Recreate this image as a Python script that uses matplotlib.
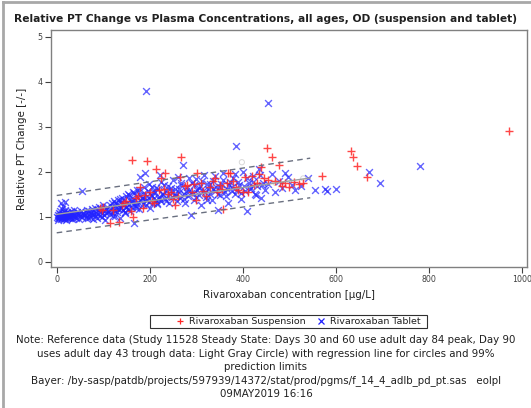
import numpy as np
import matplotlib
matplotlib.use("Agg")
import matplotlib.pyplot as plt
from matplotlib.patches import Rectangle
from matplotlib.lines import Line2D

plt.rcParams['font.family'] = ['DejaVu Sans']

# Rivaroxaban tablet: concentration [ug/L] and relative PT change
tab_x = [1, 2, 3, 3, 4, 5, 5, 6, 7, 7, 8, 9, 9, 10, 11, 11, 12, 13, 13, 14,
         15, 15, 16, 17, 18, 18, 19, 20, 21, 22, 22, 23, 24, 25, 26, 27, 28, 29, 30, 31,
         32, 33, 34, 35, 36, 37, 38, 40, 41, 42, 44, 45, 47, 48, 50, 52, 54, 55, 57, 59,
         61, 62, 64, 65, 66, 68, 69, 70, 72, 73, 75, 76, 78, 79, 80, 82, 83, 85, 86, 88,
         89, 91, 92, 94, 95, 97, 98, 100, 101, 103, 104, 106, 107, 109, 110,
         112, 114, 115, 117, 118, 120, 121, 123, 124, 126, 127, 129, 130, 132, 133, 135, 136, 138, 139, 141,
         142, 144, 145, 147, 148, 150, 151, 153, 154, 156, 157, 159, 160, 162, 163, 165, 166, 168, 170, 171,
         173, 175, 176, 178, 180, 182, 184, 185, 187, 189, 191, 193, 195, 197, 199, 201, 203, 205, 207, 209,
         211, 213, 215, 218, 220, 222, 225, 227, 230, 233, 236, 239, 242, 245, 248,
         252, 255, 258, 261, 263, 266, 268, 271, 274, 276, 279, 282, 285, 288, 290, 293, 296, 299, 302, 305,
         308, 311, 314, 317, 320, 323, 326, 330, 333, 336, 340, 343, 347, 350, 354, 358, 361, 365, 369, 372,
         376, 380, 384, 388, 392, 396, 400, 404, 408, 413, 417, 421, 426, 430, 435, 439, 444, 448,
         455, 462, 470, 478, 485, 491, 498, 505, 512, 525, 540, 555, 577, 580, 600,
         192, 455, 386, 672, 695, 781, 55, 18,
         125, 131, 137, 143, 149, 155, 161, 167, 172, 177, 183, 188, 194, 198, 204, 208, 214, 219, 224, 229,
         234, 240, 246, 251, 257, 262, 267, 273, 278, 284, 289, 295, 300, 306, 312, 318, 324, 329, 335, 341,
         347, 352, 358, 364, 370, 377, 383, 390, 397, 403, 410, 416, 423, 429, 436, 442, 120, 146, 170, 216]
tab_y = [1.00, 0.97, 1.04, 0.93, 1.02, 1.08, 0.96, 1.01, 0.99, 1.12, 1.05, 0.94, 1.03, 1.30, 1.00, 1.18, 0.98, 1.06, 1.24, 1.02,
         0.95, 1.10, 1.01, 1.04, 0.97, 1.14, 1.00, 1.07, 0.92, 1.03, 1.11, 0.98, 1.05, 1.00, 0.96, 1.09, 1.02, 0.99, 1.06, 1.13,
         0.94, 1.04, 1.01, 1.08, 0.97, 1.03, 1.15, 1.00, 1.06, 0.98, 1.10, 1.04, 0.95, 1.07, 1.02, 1.12, 1.05, 0.99, 1.09, 1.03,
         1.04, 0.98, 1.10, 1.02, 1.15, 0.96, 1.06, 1.12, 1.00, 1.08, 1.17, 1.03, 0.95, 1.11, 1.06, 1.20, 1.01, 1.09, 0.97, 1.14,
         1.05, 1.22, 1.02, 1.10, 1.16, 0.99, 1.07, 1.25, 1.04, 1.13, 0.93, 1.18, 1.08, 1.21, 1.11,
         1.12, 1.25, 1.05, 1.18, 1.30, 1.08, 1.22, 1.15, 1.35, 1.02, 1.20, 1.28, 1.10, 1.38, 1.16, 1.24, 0.98, 1.32, 1.19, 1.42,
         1.14, 1.27, 1.36, 1.09, 1.45, 1.22, 1.31, 1.17, 1.50, 1.26, 1.12, 1.40, 1.33, 1.21, 1.55, 1.29, 0.86, 1.37, 1.46, 1.24,
         1.60, 1.32, 1.18, 1.48, 1.88, 1.35, 1.42, 1.28, 1.52, 1.97, 1.38, 1.25, 1.45, 1.58, 1.33, 1.20, 1.49, 1.65, 1.30, 1.41,
         1.54, 1.36, 1.27, 1.62, 1.44, 1.93, 1.35, 1.50, 1.70, 1.39, 1.56, 1.46, 1.31, 1.64, 1.43,
         1.48, 1.62, 1.35, 1.88, 1.55, 1.42, 1.70, 2.15, 1.50, 1.30, 1.66, 1.45, 1.58, 1.04, 1.75, 1.52, 1.38, 1.84, 1.60, 1.47,
         1.68, 1.25, 1.56, 1.92, 1.43, 1.73, 1.62, 1.50, 1.36, 1.80, 1.58, 1.65, 1.15, 1.48, 1.72, 1.97, 1.54, 1.62, 1.30, 1.77,
         1.66, 1.85, 1.50, 1.60, 1.70, 1.40, 2.00, 1.58, 1.12, 1.75, 1.64, 1.90, 1.50, 1.68, 2.05, 1.42, 1.74, 1.60,
         1.72, 1.95, 1.55, 1.80, 1.64, 1.97, 1.88, 1.70, 1.59, 1.68, 1.85, 1.60, 1.61, 1.56, 1.62,
         3.79, 3.53, 2.57, 1.99, 1.75, 2.12, 1.57, 1.33,
         1.30, 1.18, 1.40, 1.26, 1.22, 1.48, 1.35, 1.52, 1.28, 1.60, 1.42, 1.66, 1.38, 1.72, 1.45, 1.55, 1.63, 1.40, 1.78, 1.50,
         1.34, 1.68, 1.57, 1.82, 1.47, 1.62, 1.75, 1.40, 1.58, 1.86, 1.52, 1.70, 1.44, 1.64, 1.80, 1.55, 1.38, 1.72, 1.62, 1.90,
         1.50, 1.66, 1.82, 1.46, 1.70, 1.58, 1.95, 1.76, 1.52, 1.68, 1.85, 1.62, 1.78, 1.48, 1.92, 1.70, 1.02, 1.10, 1.20, 1.30]

# Rivaroxaban suspension
sus_x = [93, 97, 100, 115, 134, 164, 161, 194, 214, 268, 452, 462, 478, 373, 301, 368, 401, 412, 358, 233,
         265, 570, 633, 637, 646, 667, 973,
         120, 140, 150, 175, 185, 200, 210, 220, 240, 250, 280, 290, 310, 320, 330, 340, 350, 380, 390,
         420, 430, 440, 445, 470, 480, 490, 500, 510, 520, 160, 180, 225, 255, 300, 345,
         145, 170, 190, 205, 230, 245, 260, 275, 295, 315, 335, 355, 365, 385, 405, 425, 435, 455, 485, 530]
sus_y = [1.19, 1.15, 1.22, 0.86, 0.88, 1.00, 2.26, 2.23, 2.05, 2.33, 2.53, 2.33, 2.15, 1.97, 1.96, 1.96, 1.55, 1.55, 1.17, 1.96,
         1.88, 1.90, 2.46, 2.33, 2.13, 1.88, 2.90,
         1.15, 1.25, 1.35, 1.45, 1.20, 1.55, 1.30, 1.60, 1.50, 1.40, 1.70, 1.55, 1.75, 1.45, 1.65, 1.85, 1.70, 1.80, 1.60,
         1.90, 1.75, 2.10, 1.85, 1.80, 1.77, 1.75, 1.65, 1.78, 1.72, 1.12, 1.65, 1.85, 1.25, 1.38, 1.55,
         1.30, 1.42, 1.48, 1.35, 1.62, 1.55, 1.45, 1.68, 1.72, 1.58, 1.80, 1.62, 1.75, 1.66, 1.88, 1.70, 1.95, 1.82, 1.68, 1.75]

# Adult reference data (light gray circles)
ref_x = [60, 110, 150, 190, 230, 270, 300, 330, 360, 398, 430, 470, 500, 530]
ref_y = [1.08, 1.15, 1.22, 1.30, 1.40, 1.45, 1.52, 1.58, 1.60, 2.21, 1.70, 1.75, 1.80, 1.85]

# Regression line of the reference data with 99% prediction limits
reg_x = [0, 545]
reg_fit = [1.05, 1.86]
reg_upper = [1.47, 2.30]
reg_lower = [0.64, 1.42]

x_ticks = [0, 200, 400, 600, 800, 1000]
y_ticks = [0, 1, 2, 3, 4, 5]

W, H = 531, 408
fig = plt.figure(figsize=(W / 100, H / 100), dpi=100)
fig.patch.set_facecolor('white')

# outer frame of the output
fig.add_artist(Line2D([2.5 / W, 2.5 / W], [0, 1 - 1.5 / H], color='#a8a8a8', lw=2))
fig.add_artist(Line2D([2.5 / W, 1], [1 - 1.5 / H, 1 - 1.5 / H], color='#a8a8a8', lw=2))

ax = fig.add_axes([51 / W, 1 - 267 / H, (527 - 51) / W, (267 - 30) / H])

ax.scatter(ref_x, ref_y, s=14, facecolors='none', edgecolors='#d8d8d8', linewidths=0.7, zorder=1)
ax.scatter(tab_x, tab_y, marker='x', s=24, color='#2222ff', alpha=0.7, linewidths=1.0, zorder=2)
ax.scatter(sus_x, sus_y, marker='+', s=30, color='#ff2626', alpha=0.85, linewidths=1.0, zorder=3)

ax.plot(reg_x, reg_fit, color='#a0a0a0', lw=1.0, zorder=4)
ax.plot(reg_x, reg_upper, color='#6a7080', lw=1.0, ls=(0, (4, 3)), zorder=4)
ax.plot(reg_x, reg_lower, color='#6a7080', lw=1.0, ls=(0, (4, 3)), zorder=4)

ax.set_xlim(-12.3, 1011)
ax.set_ylim(-0.12, 5.15)
ax.set_xticks(x_ticks)
ax.set_yticks(y_ticks)
ax.tick_params(axis='both', labelsize=5.7, colors='#404040', length=4, width=0.8, pad=2)
for sp in ax.spines.values():
    sp.set_color('#808080')
    sp.set_linewidth(1.0)

ax.set_xlabel('Rivaroxaban concentration [µg/L]', fontsize=7.4, color='#202020', labelpad=4)
ax.set_ylabel('Relative PT Change [-/-]', fontsize=7.4, color='#202020', labelpad=8)

fig.text(0.5, 1 - 19.5 / H,
         'Relative PT Change vs Plasma Concentrations, all ages, OD (suspension and tablet)',
         ha='center', va='center', fontsize=7.7, fontweight='bold', color='#202020')

# legend box
fig.add_artist(Rectangle((150 / W, 1 - 328 / H), (427 - 150) / W, 13 / H,
                         transform=fig.transFigure, fill=False, edgecolor='#303030', lw=0.8))
handles = [Line2D([], [], marker='+', ls='none', color='#ff2626', markersize=5, mew=0.9),
           Line2D([], [], marker='x', ls='none', color='#2222ff', markersize=4, mew=0.9)]
fig.legend(handles, ['Rivaroxaban Suspension', 'Rivaroxaban Tablet'], ncol=2, frameon=False,
           loc='center', bbox_to_anchor=(298 / W, 1 - 321.5 / H), fontsize=6.8,
           handlelength=1.0, handletextpad=0.4, columnspacing=1.2, borderpad=0, labelcolor='#202020')

note_lines = [
    'Note: Reference data (Study 11528 Steady State: Days 30 and 60 use adult day 84 peak, Day 90',
    'uses adult day 43 trough data: Light Gray Circle) with regression line for circles and 99%',
    'prediction limits',
    'Bayer: /by-sasp/patdb/projects/597939/14372/stat/prod/pgms/f_14_4_adlb_pd_pt.sas   eolpl',
    '09MAY2019 16:16',
]
for i, line in enumerate(note_lines):
    fig.text(266 / W, 1 - (340 + 13.6 * i) / H, line, ha='center', va='center',
             fontsize=7.4, color='#202020')

fig.savefig('out.png', dpi=100, facecolor='white')
